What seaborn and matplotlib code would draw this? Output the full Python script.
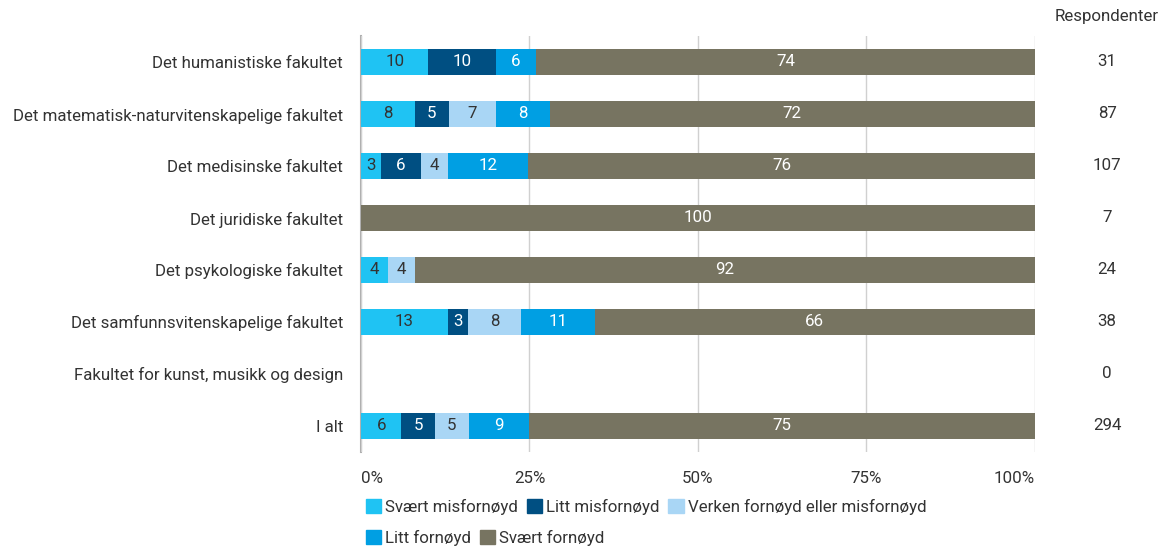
import matplotlib.pyplot as plt
import matplotlib.patches as mpatches
import pandas as pd
import seaborn as sns

# Data (percent per answer, per faculty)
fakulteter = [
    "Det humanistiske fakultet",
    "Det matematisk-naturvitenskapelige fakultet",
    "Det medisinske fakultet",
    "Det juridiske fakultet",
    "Det psykologiske fakultet",
    "Det samfunnsvitenskapelige fakultet",
    "Fakultet for kunst, musikk og design",
    "I alt",
]
svaert_misfornoyd = [10, 8, 3, 0, 4, 13, 0, 6]
litt_misfornoyd = [10, 5, 6, 0, 0, 3, 0, 5]
verken = [0, 7, 4, 0, 4, 8, 0, 5]
litt_fornoyd = [6, 8, 12, 0, 0, 11, 0, 9]
svaert_fornoyd = [74, 72, 76, 100, 92, 66, 0, 75]
respondenter = [31, 87, 107, 7, 24, 38, 0, 294]

kategorier = ["Svært misfornøyd", "Litt misfornøyd", "Verken fornøyd eller misfornøyd",
              "Litt fornøyd", "Svært fornøyd"]
farger = ["#1fc3f3", "#004f82", "#a9d6f5", "#009fe3", "#777461"]
tekstfarger = ["#333333", "white", "#333333", "white", "white"]

df = pd.DataFrame(
    dict(zip(kategorier, [svaert_misfornoyd, litt_misfornoyd, verken,
                          litt_fornoyd, svaert_fornoyd])),
    index=fakulteter,
)
cum = df.cumsum(axis=1)
tot = cum.iloc[:, -1]
cum = cum.div(tot.where(tot > 0, 1), axis=0) * 100
start = cum.shift(1, axis=1).fillna(0)

FS = 12.2
plt.rcParams["font.family"] = ["Roboto", "DejaVu Sans"]
fig = plt.figure(figsize=(11.7, 5.52), dpi=100)
ax = fig.add_axes([0.3085, 0.1812, 0.8846 - 0.3085, 0.9348 - 0.1812])

# stacked bars: draw cumulative totals from the widest layer down
for kat, farge in reversed(list(zip(kategorier, farger))):
    sns.barplot(
        x=cum[kat].values, y=fakulteter, orient="h", color=farge,
        width=0.5, saturation=1, linewidth=0, ax=ax,
    )

# value labels
for i, fak in enumerate(fakulteter):
    for kat, tf in zip(kategorier, tekstfarger):
        v = df.loc[fak, kat]
        if v > 0:
            x = (start.loc[fak, kat] + cum.loc[fak, kat]) / 2
            ax.text(x, i, str(v), ha="center", va="center", color=tf, fontsize=FS)
    ax.text(1.107, i, str(respondenter[i]), transform=ax.get_yaxis_transform(),
            ha="center", va="center", color="#333333", fontsize=FS)

ax.text(1.107, 1.046, "Respondenter", transform=ax.transAxes, ha="center",
        va="center", color="#333333", fontsize=FS)

ax.set_xlim(0, 100)
ax.set_xticks([0, 25, 50, 75, 100])
ax.set_xticklabels(["0%", "25%", "50%", "75%", "100%"])
lbls = ax.get_xticklabels()
lbls[0].set_ha("left")
lbls[-1].set_ha("right")
ax.set_xlabel("")
ax.set_ylabel("")
ax.tick_params(axis="both", length=0, labelsize=FS, colors="#333333")
ax.tick_params(axis="x", pad=14)
ax.tick_params(axis="y", pad=13)
ax.grid(axis="x", color="#d0d0d0", linewidth=1)
ax.set_axisbelow(True)
for s in ["top", "right", "bottom"]:
    ax.spines[s].set_visible(False)
ax.spines["left"].set_color("#b0b0b0")
ax.spines["left"].set_linewidth(1.5)
ax.spines["left"].set_zorder(0.5)

handles = [mpatches.Patch(color=c, label=k) for k, c in zip(kategorier, farger)]
leg_kw = dict(frameon=False, fontsize=FS, handlelength=0.9, handleheight=0.9,
              handletextpad=0.25, columnspacing=0.5, loc="center left", borderaxespad=0,
              labelcolor="#333333")
fig.legend(handles=handles[:3], ncol=3, bbox_to_anchor=(0.307, 0.0815), **leg_kw)
fig.legend(handles=handles[3:], ncol=2, bbox_to_anchor=(0.307, 0.0254), **leg_kw)

fig.savefig("out.png", dpi=100)
